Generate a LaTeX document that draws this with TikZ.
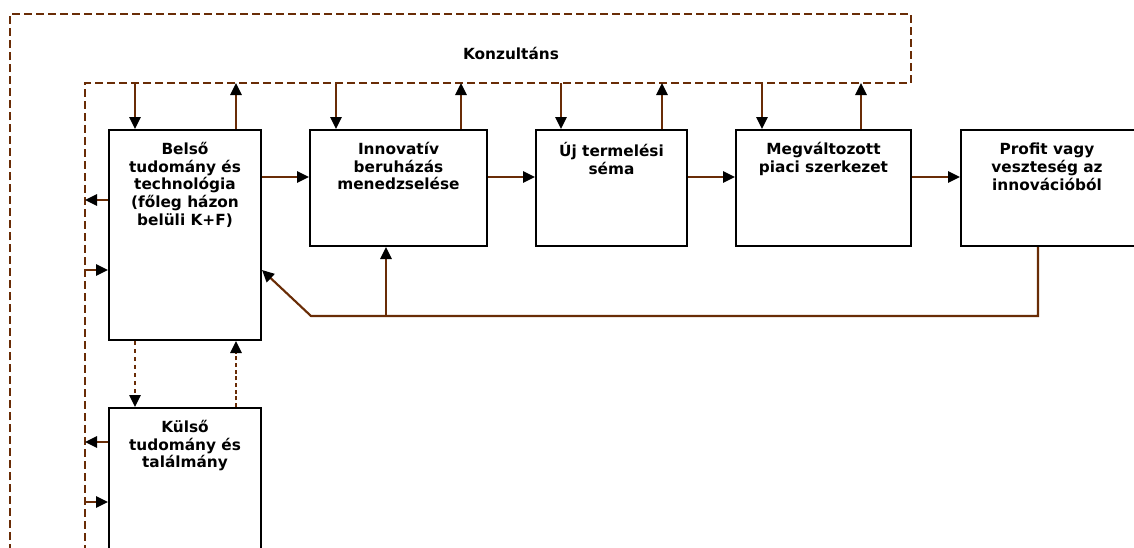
\documentclass[tikz,border=0pt]{standalone}
\usepackage{fontspec}
\setmainfont{DejaVu Sans}
\usetikzlibrary{arrows.meta,positioning,calc}
\definecolor{lnbrown}{RGB}{105,44,6}

\begin{document}
\begin{tikzpicture}[
x=0.75pt,y=-0.75pt,
font=\bfseries\fontsize{11.5}{13.4}\selectfont,
box/.style={draw=black,line width=1.5pt,fill=white,inner sep=0pt,minimum width=#1},
txt/.style={anchor=north,align=center,yshift=-8.5pt,inner sep=1pt},
arr/.style={draw=lnbrown,line width=1.6pt,-{Triangle[length=9pt,width=8.5pt,color=black]}},
frame/.style={draw=lnbrown,line width=1.8pt,dash pattern=on 6pt off 3pt}
]
    \clip (0,0) rectangle (1134,547);

    % Konzultans frame
    \draw[frame] (10,600) -- (10,14) -- (911,14) -- (911,83) -- (85,83) -- (85,600);
    \node (konz) at (511,53) {Konzultáns};

    \coordinate (t1) at (135,83);
    \coordinate (u1) at (236,83);
    \coordinate (t2) at (336,83);
    \coordinate (u2) at (461,83);
    \coordinate (t3) at (561,83);
    \coordinate (u3) at (662,83);
    \coordinate (t4) at (762,83);
    \coordinate (u4) at (861,83);

    % boxes
    \node[box=114pt,minimum height=157.5pt] (b1) at (185,235) {};
    \node[txt] (b1txt) at (b1.north) {Belső\\tudomány és\\technológia\\(főleg házon\\belüli K+F)};
    \node[box=132.75pt,minimum height=87pt] (b2) at (398.5,188) {};
    \node[txt] (b2txt) at (b2.north) {Innovatív\\beruházás\\menedzselése};
    \node[box=113.25pt,minimum height=87pt] (b3) at (611.5,188) {};
    \node[txt] (b3txt) at (b3.north) {Új termelési\\séma};
    \node[box=131.25pt,minimum height=87pt] (b4) at (823.5,188) {};
    \node[txt] (b4txt) at (b4.north) {Megváltozott\\piaci szerkezet};
    \node[box=132pt,minimum height=87pt] (b5) at (1049,188) {};
    \node[txt] (b5txt) at (1047,130) {Profit vagy\\veszteség az\\innovációból};
    \node[box=114pt,minimum height=150pt] (b6) at (185,508) {};
    \node[txt] (b6txt) at (b6.north) {Külső\\tudomány és\\találmány};

    % frame <-> boxes
    \draw[arr] (t1) -- (t1 |- b1.north);
    \draw[arr] (b1.north -| u1) -- (u1);
    \draw[arr] (t2) -- (t2 |- b2.north);
    \draw[arr] (b2.north -| u2) -- (u2);
    \draw[arr] (t3) -- (t3 |- b3.north);
    \draw[arr] (b3.north -| u3) -- (u3);
    \draw[arr] (t4) -- (t4 |- b4.north);
    \draw[arr] (b4.north -| u4) -- (u4);

    % chain
    \draw[arr] ([yshift=8.25pt]b2.west -| b1.east) -- ([yshift=8.25pt]b2.west);
    \draw[arr] ([yshift=8.25pt]b3.west -| b2.east) -- ([yshift=8.25pt]b3.west);
    \draw[arr] ([yshift=8.25pt]b4.west -| b3.east) -- ([yshift=8.25pt]b4.west);
    \draw[arr] ([yshift=8.25pt]b5.west -| b4.east) -- ([yshift=8.25pt]b5.west);

    % left side
    \coordinate (l1) at (85,200);
    \coordinate (r1) at (85,270);
    \coordinate (l2) at (85,442);
    \coordinate (r2) at (85,502);
    \draw[arr] (l1 -| b1.west) -- (l1);
    \draw[arr] (r1) -- (r1 -| b1.west);
    \draw[arr] (l2 -| b6.west) -- (l2);
    \draw[arr] (r2) -- (r2 -| b6.west);

    % internal <-> external
    \draw[arr,dashed,line width=1.1pt] (b1.south -| t1) -- (b6.north -| t1);
    \draw[arr,dash pattern=on 3pt off 2pt] (b6.north -| u1) -- (b1.south -| u1);

    % feedback
    \coordinate (p1) at (1038,316);
    \coordinate (fb) at (311,316);
    \coordinate (m2) at (386,316);
    \draw[arr] (b5.south -| p1) -- (p1) -- (fb) -- ([yshift=-26.25pt]b1.east);
    \draw[arr] (m2) -- (m2 |- b2.south);
\end{tikzpicture}
\end{document}
